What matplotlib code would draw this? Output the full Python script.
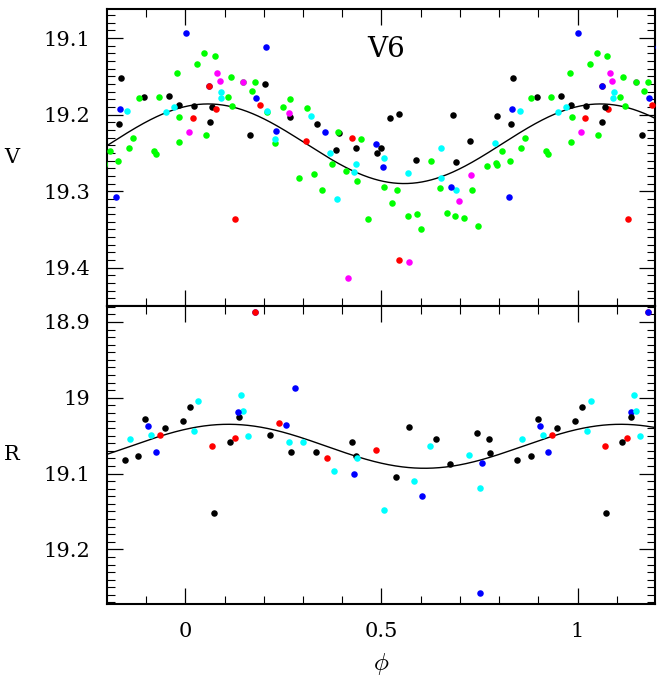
import numpy as np
import matplotlib
matplotlib.use("Agg")
import matplotlib.pyplot as plt
from matplotlib.ticker import MultipleLocator, FuncFormatter

plt.rcParams['font.family'] = ['DejaVu Serif']
plt.rcParams['mathtext.fontset'] = 'cm'

# ---------------- V band (phase, magnitude) ----------------
v_black_phase = [0.021, 0.063, 0.069, 0.165, 0.202, 0.268, 0.336, 0.385, 0.391, 0.434, 0.488, 0.500,
                 0.522, 0.545, 0.589, 0.683, 0.690, 0.726, 0.794, 0.830, 0.835, 0.896, 0.958, 0.983]
v_black_mag = [19.189, 19.209, 19.190, 19.227, 19.160, 19.203, 19.212, 19.246, 19.224, 19.243, 19.250, 19.243,
               19.204, 19.199, 19.259, 19.200, 19.262, 19.235, 19.202, 19.212, 19.152, 19.177, 19.176, 19.187]

v_green_phase = [0.031, 0.049, 0.052, 0.0755, 0.108, 0.116, 0.120, 0.148, 0.170, 0.179, 0.208, 0.229,
                 0.248, 0.267, 0.289, 0.311, 0.328, 0.348, 0.375, 0.389, 0.409, 0.438, 0.447, 0.467,
                 0.507, 0.528, 0.539, 0.567, 0.590, 0.602, 0.627, 0.650, 0.667, 0.687, 0.710, 0.731,
                 0.746, 0.769, 0.793, 0.794, 0.807, 0.828, 0.856, 0.866, 0.881, 0.920, 0.925, 0.932,
                 0.980, 0.984, 0.985]
v_green_mag = [19.134, 19.120, 19.226, 19.123, 19.177, 19.151, 19.189, 19.157, 19.169, 19.157, 19.197, 19.237,
               19.190, 19.180, 19.283, 19.191, 19.278, 19.299, 19.264, 19.223, 19.273, 19.287, 19.232, 19.336,
               19.294, 19.315, 19.298, 19.333, 19.330, 19.349, 19.261, 19.296, 19.329, 19.333, 19.335, 19.298,
               19.345, 19.267, 19.263, 19.266, 19.247, 19.260, 19.243, 19.230, 19.178, 19.248, 19.251, 19.177,
               19.146, 19.236, 19.203]

v_cyan_phase = [0.090, 0.092, 0.208, 0.228, 0.321, 0.369, 0.386, 0.429, 0.436, 0.506, 0.567, 0.653,
                0.653, 0.691, 0.790, 0.852, 0.950, 0.970]
v_cyan_mag = [19.178, 19.170, 19.195, 19.232, 19.202, 19.250, 19.310, 19.275, 19.265, 19.256, 19.276, 19.243,
              19.283, 19.298, 19.237, 19.195, 19.197, 19.190]

v_blue_phase = [0.001, 0.061, 0.181, 0.205, 0.230, 0.355, 0.486, 0.505, 0.677, 0.824, 0.833]
v_blue_mag = [19.093, 19.163, 19.178, 19.111, 19.221, 19.223, 19.238, 19.268, 19.295, 19.308, 19.193]

v_red_phase = [0.020, 0.061, 0.078, 0.128, 0.190, 0.308, 0.426, 0.546]
v_red_mag = [19.204, 19.163, 19.193, 19.336, 19.188, 19.234, 19.231, 19.390]

v_magenta_phase = [0.009, 0.082, 0.088, 0.148, 0.264, 0.416, 0.571, 0.698, 0.729]
v_magenta_mag = [19.222, 19.146, 19.156, 19.157, 19.198, 19.413, 19.393, 19.313, 19.279]

# ---------------- R band (phase, magnitude) ----------------
r_black_phase = [0.012, 0.073, 0.114, 0.136, 0.217, 0.269, 0.333, 0.426, 0.436, 0.538, 0.570, 0.640,
                 0.676, 0.743, 0.774, 0.777, 0.846, 0.880, 0.898, 0.948, 0.993]
r_black_mag = [19.012, 19.152, 19.058, 19.025, 19.049, 19.071, 19.071, 19.058, 19.077, 19.105, 19.038, 19.055,
               19.088, 19.047, 19.055, 19.073, 19.082, 19.077, 19.028, 19.040, 19.030]

r_green_phase = []
r_green_mag = []

r_cyan_phase = [0.023, 0.033, 0.143, 0.148, 0.160, 0.265, 0.299, 0.379, 0.437, 0.506, 0.584, 0.625,
                0.722, 0.751, 0.859, 0.913]
r_cyan_mag = [19.044, 19.004, 18.996, 19.018, 19.051, 19.059, 19.059, 19.097, 19.079, 19.148, 19.110, 19.063,
              19.075, 19.119, 19.055, 19.049]

r_blue_phase = [0.135, 0.179, 0.256, 0.279, 0.429, 0.603, 0.751, 0.757, 0.904, 0.925]
r_blue_mag = [19.019, 18.887, 19.036, 18.987, 19.101, 19.130, 19.257, 19.086, 19.037, 19.071]

r_red_phase = [0.069, 0.127, 0.179, 0.239, 0.360, 0.486, 0.936]
r_red_mag = [19.063, 19.053, 18.887, 19.033, 19.079, 19.069, 19.049]

r_magenta_phase = []
r_magenta_mag = []

# Fourier fit curves: mean, amplitude, phase of maximum brightness
v_fit = dict(mean=19.238, amp=0.052, phase_max=0.058)
r_fit = dict(mean=19.064, amp=0.029, phase_max=0.110)

series_colors = {'black': '#000000', 'green': '#00ff00', 'cyan': '#00ffff',
                 'blue': '#0000ff', 'red': '#ff0000', 'magenta': '#ff00ff'}
order = ['black', 'green', 'cyan', 'blue', 'red', 'magenta']

v_series = {'black': (v_black_phase, v_black_mag), 'green': (v_green_phase, v_green_mag),
            'cyan': (v_cyan_phase, v_cyan_mag), 'blue': (v_blue_phase, v_blue_mag),
            'red': (v_red_phase, v_red_mag), 'magenta': (v_magenta_phase, v_magenta_mag)}
r_series = {'black': (r_black_phase, r_black_mag), 'green': (r_green_phase, r_green_mag),
            'cyan': (r_cyan_phase, r_cyan_mag), 'blue': (r_blue_phase, r_blue_mag),
            'red': (r_red_phase, r_red_mag), 'magenta': (r_magenta_phase, r_magenta_mag)}

fig = plt.figure(figsize=(6.7, 6.79), dpi=100)
L, W = 0.160, 0.818
ax1 = fig.add_axes([L, 0.5493, W, 0.4374])
ax2 = fig.add_axes([L, 0.1105, W, 0.4388])

xlim = (-0.199, 1.198)
grid = np.linspace(xlim[0], xlim[1], 800)


def draw(ax, series, fit):
    model = fit['mean'] - fit['amp'] * np.cos(2 * np.pi * (grid - fit['phase_max']))
    ax.plot(grid, model, color='black', lw=1.0, zorder=2)
    z = 3
    for shift, seq in ((-1, order), (0, order), (1, order[::-1])):
        for name in seq:
            ph, mg = series[name]
            if len(ph) == 0:
                continue
            ax.plot(np.asarray(ph) + shift, mg, 'o', ms=4.7, mew=0,
                    color=series_colors[name], zorder=z)
            z += 0.01
    ax.set_xlim(*xlim)
    ax.xaxis.set_major_locator(MultipleLocator(0.5))
    ax.xaxis.set_minor_locator(MultipleLocator(0.1))
    ax.yaxis.set_major_locator(MultipleLocator(0.1))
    ax.yaxis.set_minor_locator(MultipleLocator(0.01))
    fmt = FuncFormatter(lambda v, p: ('%g' % round(v, 3)))
    ax.xaxis.set_major_formatter(fmt)
    ax.yaxis.set_major_formatter(fmt)
    ax.tick_params(which='both', direction='in', top=True, right=True, labelsize=15)
    ax.tick_params(which='major', length=11.5, width=0.9)
    ax.tick_params(which='minor', length=5.8, width=0.8)
    ax.tick_params(axis='y', which='major', pad=12)
    ax.tick_params(axis='x', which='major', pad=13)
    for s in ax.spines.values():
        s.set_linewidth(1.5)


draw(ax1, v_series, v_fit)
draw(ax2, r_series, r_fit)

ax1.set_ylim(19.450, 19.062)
ax2.set_ylim(19.272, 18.879)
ax1.tick_params(labelbottom=False)

ax1.text(-0.174, 0.5, 'V', fontsize=15, ha='center', va='center', transform=ax1.transAxes)
ax2.text(-0.174, 0.5, 'R', fontsize=15, ha='center', va='center', transform=ax2.transAxes)
ax2.set_xlabel(r'$\phi$', fontsize=18, labelpad=7)

ax1.text(0.511, 19.115, 'V6', fontsize=20, ha='center', va='center')

fig.savefig('out.png', dpi=100)
